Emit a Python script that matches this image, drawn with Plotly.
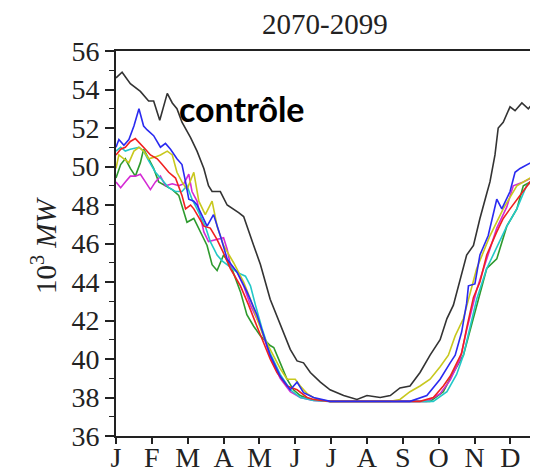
import plotly.graph_objects as go

# x positions are in months (0 = 1 January), values in 10^3 MW
month_labels = ["J", "F", "M", "A", "M", "J", "J", "A", "S", "O", "N", "D"]

ctrl_x = [0, 0.17, 0.40, 0.68, 0.91, 1.05, 1.22, 1.43, 1.57, 1.70, 1.84, 2.08, 2.26, 2.45, 2.58, 2.68,
          2.91, 3.10, 3.42, 3.56, 3.84, 4.03, 4.30, 4.58, 4.86, 5.05, 5.23, 5.42, 5.70, 5.97, 6.35, 6.72,
          7.00, 7.37, 7.65, 7.92, 8.20, 8.48, 8.76, 9.04, 9.23, 9.41, 9.60, 9.78, 9.97, 10.15, 10.34,
          10.43, 10.57, 10.66, 10.80, 10.99, 11.13, 11.32, 11.50, 11.69, 11.77, 11.90]
ctrl_y = [54.6, 54.9, 54.3, 53.9, 53.4, 53.4, 52.4, 53.8, 53.3, 53.0, 52.3, 51.5, 50.8, 49.9, 49.0, 48.7,
          48.7, 48.0, 47.6, 47.4, 45.9, 44.9, 43.1, 41.8, 40.5, 39.9, 39.8, 39.3, 38.8, 38.4, 38.1, 37.9,
          38.1, 38.0, 38.1, 38.5, 38.6, 39.3, 40.2, 41.0, 42.1, 42.8, 44.2, 45.4, 45.9, 47.3, 48.6,
          49.2, 50.6, 52.0, 52.3, 53.1, 52.9, 53.3, 53.0, 53.4, 53.6, 53.8]

blue_x = [0, 0.08, 0.22, 0.36, 0.50, 0.64, 0.77, 0.87, 1.05, 1.24, 1.38, 1.52, 1.70, 1.84, 1.94, 2.03,
          2.17, 2.26, 2.54, 2.72, 2.91, 3.10, 3.38, 3.65, 3.93, 4.12, 4.30, 4.58, 4.86, 5.05, 5.23, 5.51,
          5.97, 7.00, 8.20, 8.67, 9.04, 9.32, 9.46, 9.64, 9.78, 9.83, 10.01, 10.15, 10.38, 10.62, 10.76,
          10.99, 11.13, 11.27, 11.55, 11.77, 11.90]
blue_y = [51.0, 51.4, 51.1, 51.4, 52.1, 53.0, 52.1, 51.9, 51.6, 51.0, 51.2, 50.9, 50.4, 50.1, 49.2, 48.3,
          48.2, 48.0, 46.9, 47.5, 46.4, 45.2, 44.5, 43.5, 42.3, 41.2, 40.2, 39.1, 38.4, 38.8, 38.25, 38.0,
          37.8, 37.8, 37.8, 38.1, 38.95, 39.8, 40.2, 41.4, 42.9, 43.8, 43.9, 45.4, 46.4, 48.3, 47.8,
          48.7, 49.7, 49.9, 50.2, 50.4, 50.5]

red_x = [0, 0.13, 0.26, 0.40, 0.54, 0.68, 0.82, 0.96, 1.15, 1.29, 1.47, 1.66, 1.75, 1.84, 1.94, 2.08,
         2.17, 2.26, 2.45, 2.63, 2.82, 3.00, 3.19, 3.47, 3.70, 3.93, 4.30, 4.49, 4.77, 5.05, 5.33, 5.51,
         5.97, 7.00, 8.48, 8.85, 9.13, 9.32, 9.50, 9.64, 9.78, 9.97, 10.15, 10.34, 10.62, 10.80, 10.99,
         11.27, 11.55, 11.77, 11.90]
red_y = [50.6, 50.9, 51.0, 51.3, 51.45, 51.2, 50.9, 50.6, 50.4, 50.1, 49.7, 49.4, 49.0, 48.5, 47.8, 48.0,
         47.8, 47.5, 46.9, 46.8, 46.2, 45.5, 44.7, 43.8, 42.8, 41.7, 40.0, 39.3, 38.6, 38.4, 38.0, 37.9,
         37.8, 37.8, 37.8, 38.0, 38.6, 39.1, 39.8, 40.3, 41.6, 43.2, 44.0, 45.4, 46.6, 47.3, 47.8,
         48.5, 49.2, 49.5, 49.7]

magenta_x = [0, 0.13, 0.26, 0.40, 0.54, 0.68, 0.82, 0.96, 1.10, 1.24, 1.38, 1.57, 1.75, 1.89, 2.03, 2.12,
             2.26, 2.45, 2.58, 2.77, 3.00, 3.10, 3.19, 3.38, 3.56, 3.75, 4.03, 4.30, 4.58, 4.86, 5.14, 5.51,
             5.97, 7.00, 8.67, 9.04, 9.32, 9.60, 9.78, 10.06, 10.34, 10.62, 10.90, 11.08, 11.36, 11.77, 11.90]
magenta_y = [49.2, 48.9, 49.2, 49.5, 49.5, 49.6, 49.2, 48.8, 49.2, 49.5, 49.0, 49.1, 49.0, 49.1, 49.6, 48.7,
             48.2, 46.6, 46.1, 46.2, 46.3, 45.7, 44.9, 44.5, 43.8, 42.8, 41.7, 40.1, 39.0, 38.3, 38.0, 37.85,
             37.8, 37.8, 37.8, 38.2, 38.9, 40.0, 41.5, 43.6, 45.2, 46.8, 47.9, 49.0, 49.2, 49.6, 49.7]

cyan_x = [0, 0.13, 0.26, 0.40, 0.64, 0.77, 0.91, 1.10, 1.29, 1.47, 1.66, 1.84, 1.98, 2.12, 2.26, 2.49,
          2.63, 2.82, 2.96, 3.10, 3.38, 3.61, 3.75, 3.89, 4.07, 4.30, 4.58, 4.86, 5.14, 5.51, 5.97, 7.00,
          8.85, 9.23, 9.50, 9.69, 9.87, 10.06, 10.34, 10.71, 10.90, 11.18, 11.45, 11.77, 11.90]
cyan_y = [50.8, 51.0, 50.8, 50.9, 51.0, 50.8, 50.3, 49.7, 49.3, 48.9, 48.7, 48.7, 49.0, 48.3, 47.8, 46.9,
          46.1, 45.4, 45.1, 44.9, 44.5, 44.3, 43.8, 42.8, 41.6, 40.3, 39.2, 38.4, 38.0, 37.85, 37.8, 37.8,
          37.8, 38.3, 39.2, 40.2, 41.6, 43.1, 44.7, 46.2, 46.9, 47.8, 49.0, 49.5, 49.6]

green_x = [0, 0.13, 0.26, 0.40, 0.54, 0.68, 0.77, 0.91, 1.05, 1.19, 1.38, 1.57, 1.75, 1.89, 1.98, 2.17,
           2.35, 2.54, 2.68, 2.82, 3.00, 3.19, 3.47, 3.65, 3.84, 4.03, 4.30, 4.40, 4.58, 4.77, 4.95, 5.14,
           5.42, 5.97, 7.00, 8.76, 9.13, 9.41, 9.69, 9.97, 10.34, 10.62, 10.90, 11.18, 11.36, 11.77, 11.90]
green_y = [49.4, 50.1, 50.4, 49.9, 49.5, 50.2, 50.9, 50.4, 49.9, 49.2, 49.0, 48.8, 48.5, 47.7, 47.1, 47.3,
           46.6, 45.9, 44.9, 44.6, 45.4, 44.9, 43.5, 42.3, 41.7, 41.2, 40.7, 40.6, 39.8, 38.95, 38.4, 38.1,
           37.9, 37.8, 37.8, 37.8, 38.3, 39.3, 40.2, 42.1, 44.7, 45.2, 46.9, 47.8, 49.0, 49.4, 49.5]

yellow_x = [0, 0.08, 0.22, 0.36, 0.50, 0.64, 0.77, 0.91, 1.10, 1.24, 1.43, 1.57, 1.70, 1.84, 1.98, 2.17,
            2.31, 2.49, 2.68, 2.82, 3.00, 3.28, 3.56, 3.75, 3.93, 4.11, 4.30, 4.58, 4.77, 5.00, 5.14, 5.33,
            5.60, 5.97, 7.65, 7.92, 8.20, 8.48, 8.76, 9.04, 9.27, 9.46, 9.69, 10.06, 10.43, 10.80, 11.18,
            11.55, 11.77, 11.90]
yellow_y = [49.9, 50.6, 50.4, 50.2, 50.8, 51.0, 50.8, 50.4, 50.5, 50.6, 50.8, 50.6, 49.7, 49.2, 48.8, 49.7,
            48.2, 47.5, 48.2, 46.9, 45.9, 45.0, 44.0, 43.1, 42.1, 41.2, 40.5, 39.5, 38.95, 38.95, 38.6, 38.2,
            37.9, 37.8, 37.8, 37.9, 38.3, 38.6, 38.95, 39.6, 40.2, 41.2, 42.1, 44.7, 46.4, 47.8, 49.0,
            49.4, 49.5, 49.6]

series = [
    ("vert", green_x, green_y, "#2e9a2e"),
    ("magenta", magenta_x, magenta_y, "#d42ad4"),
    ("cyan", cyan_x, cyan_y, "#22c8c8"),
    ("jaune", yellow_x, yellow_y, "#c8c81e"),
    ("rouge", red_x, red_y, "#f02020"),
    ("bleu", blue_x, blue_y, "#2a2af0"),
    ("contrôle", ctrl_x, ctrl_y, "#333333"),
]

fig = go.Figure()
for name, xs, ys, col in series:
    fig.add_trace(go.Scatter(x=xs, y=ys, mode="lines", name=name,
                             line=dict(color=col, width=1.6), showlegend=False))

serif = "Liberation Serif"

# the page body has an 8px margin, so the figure is 8px smaller than the window
fig.update_layout(
    width=530, height=464,
    margin=dict(l=107.5, r=0, t=43, b=36, autoexpand=False),
    paper_bgcolor="white", plot_bgcolor="white",
    font=dict(family=serif, color="#222222"),
    showlegend=False,
)

fig.update_xaxes(
    range=[0, 11.77], automargin=False,
    tickmode="array", tickvals=list(range(12)), ticktext=month_labels,
    ticks="outside", ticklen=6, tickwidth=1.5, tickcolor="#222222",
    tickfont=dict(family=serif, size=28, color="#222222"),
    ticklabelstandoff=-11,
    showline=True, linecolor="#222222", linewidth=2, mirror=True,
    showgrid=False, zeroline=False,
)
fig.update_yaxes(
    range=[36, 56], automargin=False,
    tickmode="linear", tick0=36, dtick=2,
    ticks="outside", ticklen=9, tickwidth=1.5, tickcolor="#222222",
    tickfont=dict(family=serif, size=28, color="#222222"),
    minor=dict(ticks="outside", dtick=1, ticklen=5, tickwidth=1.2, tickcolor="#222222", showgrid=False),
    showline=True, linecolor="#222222", linewidth=2, mirror=False,
    showgrid=False, zeroline=False,
)

fig.add_annotation(text="2070-2099", xref="paper", yref="paper", x=0.495, y=1.07,
                   xanchor="center", yanchor="middle", showarrow=False,
                   font=dict(family=serif, size=29, color="#222222"))
fig.add_annotation(text="10<sup>3</sup> <i>MW</i>", xref="paper", yref="paper", x=-0.172, y=0.497,
                   xanchor="center", yanchor="middle", textangle=-90, showarrow=False,
                   font=dict(family=serif, size=29, color="#222222"))
fig.add_annotation(text="<b>contrôle</b>", xref="paper", yref="paper", x=0.2985, y=0.85,
                   xanchor="center", yanchor="middle", showarrow=False,
                   font=dict(family="Lato", size=34, color="#000000"))

fig.write_html("out.html")
